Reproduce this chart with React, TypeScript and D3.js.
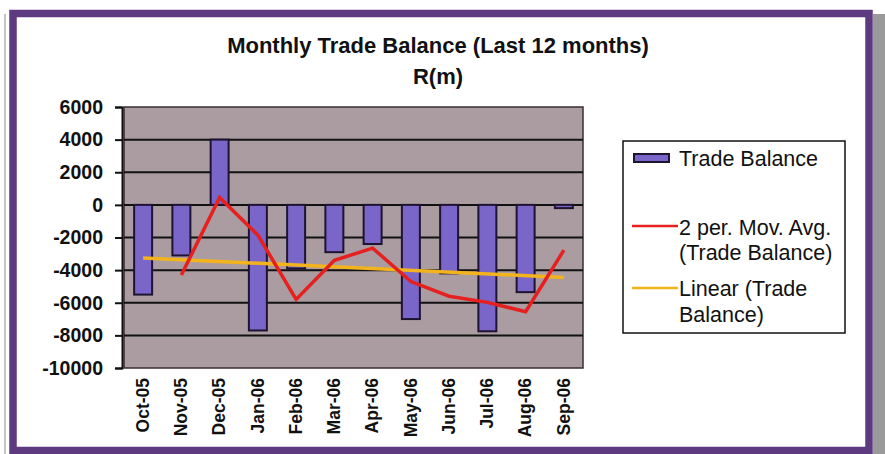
import React, { useEffect, useRef } from "react";
import * as d3 from "d3";

const months = [
  "Oct-05", "Nov-05", "Dec-05", "Jan-06", "Feb-06", "Mar-06",
  "Apr-06", "May-06", "Jun-06", "Jul-06", "Aug-06", "Sep-06",
];
// Trade balance R(m)
const tradeBalance = [-5500, -3100, 4000, -7700, -3900, -2900, -2400, -7000, -4200, -7750, -5350, -200];
// 2 period moving average as plotted (first month has none)
const movingAvg: (number | null)[] = [null, -4300, 450, -1850, -5800, -3400, -2650, -4700, -5600, -5975, -6550, -2775];
// linear trend end points (Oct-05, Sep-06)
const trendMonths = ["Oct-05", "Sep-06"];
const trendValues = [-3250, -4450];
const yTicks = [6000, 4000, 2000, 0, -2000, -4000, -6000, -8000, -10000];

const FONT = "'Liberation Sans', Arial, sans-serif";

const App: React.FC = () => {
  const svgRef = useRef<SVGSVGElement>(null);

  useEffect(() => {
    if (!svgRef.current) return;
    const svg = d3.select(svgRef.current);
    svg.selectAll("*").remove();

    const W = 885, H = 454;
    const plot = { left: 124, right: 583, top: 107, bottom: 368 };

    // background + frame
    svg.append("rect").attr("width", W).attr("height", H).attr("fill", "#ffffff");
    svg.append("rect").attr("x", 873).attr("y", 14).attr("width", 12).attr("height", H - 14).attr("fill", "#9a9a9a");
    svg.append("line").attr("x1", 5).attr("x2", 5).attr("y1", 14).attr("y2", H).attr("stroke", "#b0b0b0").attr("stroke-width", 1.5);
    svg.append("rect")
      .attr("x", 13).attr("y", 13.5).attr("width", 856).attr("height", 437)
      .attr("fill", "#ffffff").attr("stroke", "#5e3a80").attr("stroke-width", 7.5);

    // title
    svg.append("text").attr("x", 438).attr("y", 53).attr("text-anchor", "middle")
      .attr("font-family", FONT).attr("font-weight", "bold").attr("font-size", 22)
      .attr("fill", "#111").text("Monthly Trade Balance (Last 12 months)");
    svg.append("text").attr("x", 438).attr("y", 84).attr("text-anchor", "middle")
      .attr("font-family", FONT).attr("font-weight", "bold").attr("font-size", 22)
      .attr("fill", "#111").text("R(m)");

    const x = d3.scaleBand<string>().domain(months).range([plot.left, plot.right]).paddingInner(0.53).paddingOuter(0.265);
    const xc = (m: string) => (x(m) as number) + x.bandwidth() / 2;
    const y = d3.scaleLinear().domain([-10000, 6000]).range([plot.bottom, plot.top]);

    // plot area
    svg.append("rect")
      .attr("x", plot.left).attr("y", plot.top)
      .attr("width", plot.right - plot.left).attr("height", plot.bottom - plot.top)
      .attr("fill", "#ab9ca1").attr("stroke", "#3a2e34").attr("stroke-width", 1.5);

    // gridlines
    svg.append("g").selectAll("line")
      .data(yTicks.filter((t) => t !== 6000 && t !== -10000))
      .join("line")
      .attr("x1", plot.left).attr("x2", plot.right)
      .attr("y1", (d) => y(d)).attr("y2", (d) => y(d))
      .attr("stroke", "#111").attr("stroke-width", 2);

    // y axis
    const yAxis = svg.append("g")
      .attr("transform", `translate(${plot.left - 2},0)`)
      .call(d3.axisLeft(y).tickValues(yTicks).tickSize(7).tickPadding(12).tickFormat(d3.format("d")));
    yAxis.select(".domain").attr("stroke", "#111").attr("stroke-width", 2);
    yAxis.selectAll(".tick line").attr("stroke", "#111").attr("stroke-width", 2);
    yAxis.selectAll(".tick text")
      .attr("font-family", FONT).attr("font-weight", "bold").attr("font-size", 19.5).attr("fill", "#111")
      .text((d: any) => String(d));

    // bars
    svg.append("g").selectAll("rect")
      .data(tradeBalance)
      .join("rect")
      .attr("x", (_, i) => x(months[i]) as number)
      .attr("width", x.bandwidth())
      .attr("y", (d) => y(Math.max(0, d)))
      .attr("height", (d) => Math.abs(y(d) - y(0)))
      .attr("fill", "#7a66c8").attr("stroke", "#1e1430").attr("stroke-width", 2);

    // x labels
    svg.append("g").selectAll("text")
      .data(months)
      .join("text")
      .attr("transform", (d) => `translate(${xc(d) + 1},${plot.bottom + 10}) rotate(-90)`)
      .attr("text-anchor", "end").attr("dominant-baseline", "middle")
      .attr("font-family", FONT).attr("font-weight", "bold").attr("font-size", 17.5).attr("fill", "#111")
      .text((d) => d);

    // trend line
    const line = d3.line<[string, number]>().x((d) => xc(d[0])).y((d) => y(d[1]));
    svg.append("path")
      .datum(trendMonths.map((m, i) => [m, trendValues[i]] as [string, number]))
      .attr("fill", "none").attr("stroke", "#f2b31c").attr("stroke-width", 3.5).attr("d", line);

    // moving average
    const maPts = months
      .map((m, i) => [m, movingAvg[i]] as [string, number | null])
      .filter((d) => d[1] !== null) as [string, number][];
    svg.append("path")
      .datum(maPts)
      .attr("fill", "none").attr("stroke", "#e5201e").attr("stroke-width", 3.5)
      .attr("stroke-linejoin", "miter").attr("d", line);

    // legend
    const lg = svg.append("g");
    lg.append("rect").attr("x", 623).attr("y", 141).attr("width", 222).attr("height", 192)
      .attr("fill", "#ffffff").attr("stroke", "#111").attr("stroke-width", 1.5);
    lg.append("rect").attr("x", 634).attr("y", 154).attr("width", 35).attr("height", 8)
      .attr("fill", "#7a66c8").attr("stroke", "#1e1430").attr("stroke-width", 2);
    lg.append("line").attr("x1", 632).attr("x2", 678).attr("y1", 226).attr("y2", 226)
      .attr("stroke", "#e5201e").attr("stroke-width", 2.5);
    lg.append("line").attr("x1", 632).attr("x2", 678).attr("y1", 288).attr("y2", 288)
      .attr("stroke", "#f2b31c").attr("stroke-width", 2.5);
    const legendText: [string, number][] = [
      ["Trade Balance", 166],
      ["2 per. Mov. Avg.", 235],
      ["(Trade Balance)", 260],
      ["Linear (Trade", 296],
      ["Balance)", 322],
    ];
    lg.selectAll("text.leg")
      .data(legendText)
      .join("text")
      .attr("x", 679).attr("y", (d) => d[1])
      .attr("font-family", FONT).attr("font-size", 21.5).attr("fill", "#111")
      .text((d) => d[0]);
  }, []);

  return (
    <svg
      ref={svgRef}
      width={885}
      height={454}
      style={{ position: "absolute", left: 0, top: 0 }}
    ></svg>
  );
};

export default App;
